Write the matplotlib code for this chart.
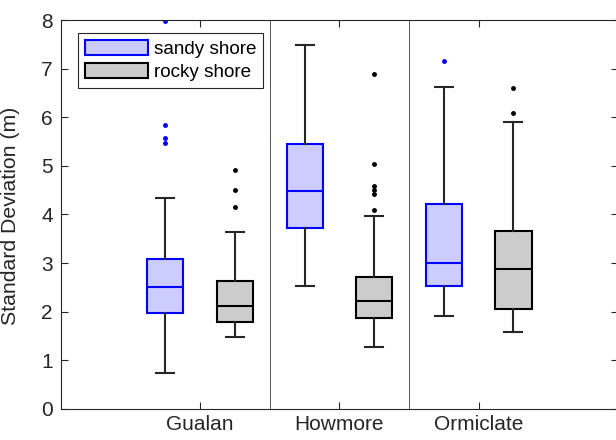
import numpy as np
import matplotlib.pyplot as plt
from matplotlib.patches import Patch

plt.rcParams['font.family'] = ['Liberation Sans', 'DejaVu Sans']

sites = ['Gualan', 'Howmore', 'Ormiclate']

# box stats: whislo, q1, med, q3, whishi
sandy_stats = [
    [0.74, 1.98, 2.51, 3.09, 4.33],
    [2.53, 3.72, 4.49, 5.45, 7.49],
    [1.91, 2.52, 3.01, 4.22, 6.63],
]
sandy_out = [
    [5.47, 5.57, 5.85, 7.99],
    [],
    [7.15],
]
rocky_stats = [
    [1.49, 1.79, 2.12, 2.64, 3.64],
    [1.28, 1.87, 2.23, 2.72, 3.97],
    [1.58, 2.06, 2.87, 3.67, 5.90],
]
rocky_out = [
    [4.16, 4.51, 4.91],
    [4.09, 4.42, 4.51, 4.59, 5.03, 6.89],
    [6.08, 6.61],
]


def make_stats(rows, outs):
    res = []
    for r, o in zip(rows, outs):
        res.append(dict(whislo=r[0], q1=r[1], med=r[2], q3=r[3], whishi=r[4],
                        fliers=o))
    return res


fig = plt.figure(figsize=(6.16, 4.40), dpi=100)
ax = fig.add_axes([0.099, 0.0705, 0.904, 0.884])

pos = np.arange(1, len(sites) + 1)
wcol = '#262626'

for stats, off, face, edge, fl in [
        (make_stats(sandy_stats, sandy_out), -0.25, '#ccccff', '#0000ff', '#0000ff'),
        (make_stats(rocky_stats, rocky_out), 0.25, '#cccccc', '#000000', '#000000')]:
    ax.bxp(stats, positions=pos + off, widths=0.26, patch_artist=True,
           showfliers=True, manage_ticks=False,
           boxprops=dict(facecolor=face, edgecolor=edge, linewidth=1.5),
           medianprops=dict(color=edge, linewidth=1.5),
           whiskerprops=dict(color=wcol, linewidth=1.5),
           capprops=dict(color=wcol, linewidth=1.5),
           capwidths=0.13,
           flierprops=dict(marker='o', markersize=2.5, markerfacecolor=fl,
                           markeredgecolor=fl, linestyle='none'))

for xs in [1.5, 2.5]:
    ax.axvline(xs, color='#555555', linewidth=0.7, zorder=0)

ax.set_xlim(0, 4)
ax.set_ylim(0, 8)
ax.set_xticks(pos)
ax.set_xticklabels(sites)
ax.set_yticks(range(0, 9))
ax.set_ylabel('Standard Deviation (m)', fontsize=15.3, color='#262626')
ax.yaxis.set_label_coords(-0.074, 0.497)
ax.tick_params(direction='in', top=True, right=True, labelsize=15,
               colors='#262626', length=5, width=0.8)
ax.tick_params(axis='x', pad=4)
ax.tick_params(axis='y', pad=6)
for s in ax.spines.values():
    s.set_color('#262626')
    s.set_linewidth(0.8)

handles = [Patch(facecolor='#ccccff', edgecolor='#0000ff', linewidth=1.5, label='sandy shore'),
           Patch(facecolor='#cccccc', edgecolor='#000000', linewidth=1.5, label='rocky shore')]
leg = ax.legend(handles=handles, loc='upper left', bbox_to_anchor=(0.0305, 0.9666),
                fontsize=13.6, fancybox=False, framealpha=1, edgecolor='#262626',
                handlelength=3.36, handleheight=0.9, borderpad=0.35,
                labelspacing=0.25, handletextpad=0.32, borderaxespad=0)
leg.get_frame().set_linewidth(0.8)

fig.savefig('out.png', dpi=100)
